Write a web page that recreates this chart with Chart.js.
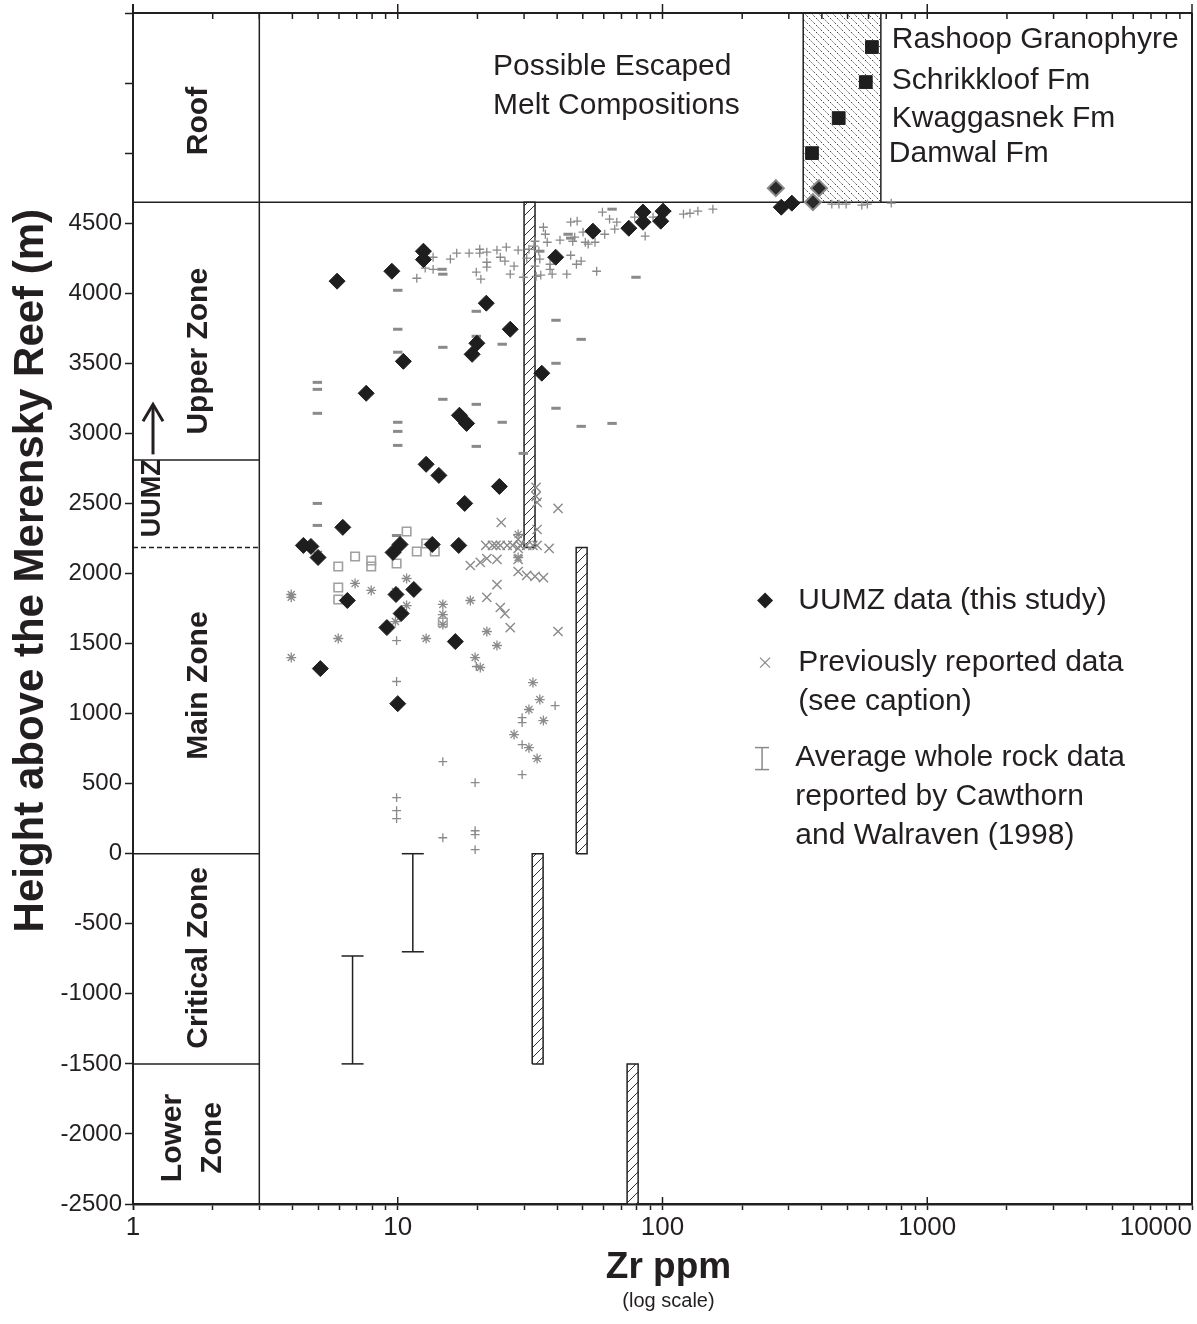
<!DOCTYPE html>
<html>
<head>
<meta charset="utf-8">
<script src="https://cdn.jsdelivr.net/npm/chart.js@4.4.1/dist/chart.umd.min.js"></script>
<style>
  html, body { margin: 0; padding: 0; background: #fff; }
  canvas { display: block; }
</style>
</head>
<body>
<canvas id="chartCanvas" width="1197" height="1324"></canvas>
<script>
// --- values: [Zr ppm, height above Merensky Reef (m)] ---
const uumzPoints = [
  [5.9, 4086], [9.5, 4157], [12.5, 4300], [12.5, 4240], [10.5, 3514], [21.6, 3929],
  [26.6, 3743], [19.9, 3643], [19.1, 3564], [39.5, 4257], [35.0, 3429], [7.6, 3286],
  [17.1, 3129], [18.2, 3071], [12.8, 2779], [14.3, 2700], [24.2, 2621], [17.9, 2500],
  [6.2, 2329], [4.4, 2200], [4.7, 2193], [5.0, 2114], [10.2, 2207], [9.6, 2150],
  [13.5, 2207], [17.0, 2200], [6.45, 1807], [11.5, 1886], [9.85, 1850], [10.3, 1714],
  [9.1, 1614], [16.5, 1514], [5.1, 1321], [10.0, 1071], [54.6, 4443], [74.6, 4464],
  [84.4, 4579], [84.4, 4507], [100.5, 4586], [98.5, 4514], [281, 4614], [308, 4643]
];
// diamonds with a grey rim at the roof contact
const uumzRoofPoints = [[268, 4750], [370, 4650], [390, 4750]];

const roofSamples = [[618, 5757], [586, 5507], [463, 5250], [367, 5000]];
const roofNames = ["Rashoop Granophyre", "Schrikkloof Fm", "Kwaggasnek Fm", "Damwal Fm"];
const roofNameAnchors = [[735, 5807], [735, 5514], [735, 5243], [716, 4993]];

// previously reported data, one list per marker
const prevPlus = [
  [11.8, 4107], [12.7, 4279], [13.6, 4257], [12.7, 4179], [13.6, 4171], [15.8, 4243],
  [16.7, 4286], [18.6, 4286], [20.4, 4314], [20.4, 4286], [21.7, 4293], [23.7, 4307],
  [25.7, 4329], [24.4, 4257], [25.4, 4229], [21.7, 4221], [21.7, 4186], [19.8, 4150],
  [20.6, 4100], [27.5, 4193], [26.6, 4136], [28.5, 4307], [30.7, 4250], [29.8, 4114],
  [31.3, 4314], [32.7, 4336], [33.0, 4371], [33.0, 4193], [33.3, 4121], [34.7, 4129],
  [34.4, 4243], [34.1, 4300], [35.5, 4471], [36.1, 4421], [36.7, 4364], [37.6, 4207],
  [37.6, 4171], [38.3, 4136], [41.0, 4379], [43.5, 4136], [45.0, 4271], [45.0, 4507],
  [47.6, 4514], [45.8, 4371], [46.6, 4400], [49.3, 4229], [47.3, 4207], [50.1, 4436],
  [51.1, 4364], [52.4, 4350], [55.6, 4364], [56.4, 4157], [59.3, 4579], [60.5, 4421],
  [63.1, 4529], [67.2, 4507], [66.0, 4457], [78.5, 4543], [86.0, 4407], [92.1, 4543],
  [96.5, 4543], [104, 4586], [120, 4564], [127, 4571], [136, 4586], [155, 4600],
  [436, 4636], [464, 4636], [494, 4636], [566, 4629], [594, 4636], [731, 4643],
  [9.9, 1521], [9.9, 1229], [14.8, 657], [19.6, 507], [9.9, 400], [9.9, 307],
  [9.9, 250], [14.8, 114], [19.6, 164], [19.6, 136], [19.6, 29], [39.3, 1057],
  [29.5, 971], [29.5, 936], [29.5, 779], [29.5, 564], [19.8, 1336]
];
const prevDash = [
  [64.5, 4600], [10.0, 4021], [14.8, 4136], [14.7, 4171], [79.4, 4114], [19.8, 3871],
  [10.0, 3743], [19.8, 3693], [24.8, 3636], [14.8, 3614], [10.0, 3579], [39.6, 3807],
  [49.3, 3671], [39.6, 3500], [4.97, 3364], [4.97, 3314], [4.97, 3143], [14.8, 3243],
  [19.8, 3207], [39.6, 3179], [24.8, 3079], [49.3, 3050], [64.5, 3071], [10.0, 3079],
  [10.0, 3014], [10.0, 2914], [19.8, 2907], [29.8, 2857], [4.97, 2500], [4.97, 2343],
  [9.9, 2271], [34.4, 4300], [44.0, 4421], [45.0, 4393]
];
const prevCross = [
  [40.3, 2464], [24.6, 2364], [33.3, 2614], [33.3, 2550], [33.6, 2507], [33.6, 2314],
  [21.5, 2200], [22.8, 2200], [23.5, 2200], [24.4, 2200], [25.9, 2200], [27.2, 2200],
  [29.0, 2200], [30.7, 2200], [32.4, 2200], [33.6, 2200], [37.3, 2179], [18.8, 2057],
  [20.5, 2079], [21.7, 2107], [23.7, 2100], [28.5, 2179], [28.5, 2100], [28.5, 2014],
  [30.7, 1986], [33.0, 1979], [35.5, 1971], [23.7, 1921], [21.7, 1829], [24.4, 1757],
  [25.4, 1714], [26.6, 1614], [40.3, 1586], [4.97, 2129], [28.5, 2243]
];
const prevStar = [
  [3.96, 1850], [3.96, 1830], [3.96, 1400], [5.96, 1536], [6.9, 1929], [7.94, 1879],
  [10.8, 1964], [10.8, 1771], [9.8, 1871], [9.8, 1657], [12.8, 1536], [14.8, 1779],
  [14.8, 1707], [14.8, 1636], [18.8, 1807], [21.7, 1586], [23.7, 1486], [19.6, 1400],
  [20.5, 1329], [32.4, 1221], [34.4, 1100], [31.3, 1029], [35.5, 950], [27.5, 850],
  [31.3, 757], [33.6, 679], [28.5, 2279], [28.5, 2114]
];
const prevSquare = [
  [10.8, 2300], [12.8, 2214], [11.8, 2157], [13.8, 2157], [9.9, 2071], [6.9, 2121],
  [5.96, 2050], [7.94, 2093], [7.94, 2050], [5.96, 1900], [5.96, 1814], [14.8, 1650]
];

// hatched ranges: [Zr low, Zr high, bottom m, top m]
const rangeBars = [[30, 33, 2185, 4650], [47.2, 51.9, 0, 2185], [32.2, 35.4, -1500, 0], [73.5, 80.9, -2500, -1500]];
const roofRange = [340, 668, 4650, 6000];
// Cawthorn & Walraven (1998) averages: [Zr, top m, bottom m]
const avgBars = [[6.75, -730, -1500], [11.4, 0, -700]];

// zone column
const zoneEdgeZr = 3;
const roofBase = 4650;
const zoneLines = [2810, 0, -1500];
const uumzBase = 2185;
const zoneLabels = [
  ["Roof", 5229, 0], ["Upper Zone", 3586, 0], ["Main Zone", 1200, 0],
  ["Critical Zone", -743, 0], ["Lower", -2029, -26], ["Zone", -2029, 14]
];

const meltLabel = ["Possible Escaped", "Melt Compositions"];
const meltAnchor = [22.9, 5620];

const legendRows = [
  ["diamond", ["UUMZ data (this study)"], 1807],
  ["cross", ["Previously reported data", "(see caption)"], 1364],
  ["ibeam", ["Average whole rock data", "reported by Cawthorn", "and Walraven (1998)"], 686]
];
const legendSymZr = 244;
const legendTextZr = 326;

const yTickValues = [-2500, -2000, -1500, -1000, -500, 0, 500, 1000, 1500, 2000, 2500, 3000, 3500, 4000, 4500, 5000, 5500, 6000];
const xMajorTicks = [1, 10, 100, 1000, 10000];
const yTitle = "Height above the Merensky Reef (m)";
const yTitleCentre = 2020; // metres level of the title's middle

// --- styles ---
const INK = "#231f20";
const GREY = "#8a8a8a";
const SANS = "'Liberation Sans', Arial, sans-serif";

const canvas = document.getElementById("chartCanvas");
const mainCtx = canvas.getContext("2d");

function hatch(step, forward, color, width, dash) {
  const c = document.createElement("canvas");
  c.width = step; c.height = step;
  const g = c.getContext("2d");
  g.fillStyle = "#fff";
  g.fillRect(0, 0, step, step);
  g.strokeStyle = color; g.lineWidth = width;
  if (dash) g.setLineDash(dash);
  g.beginPath();
  if (forward) {
    g.moveTo(-1, step + 1); g.lineTo(step + 1, -1);
    g.moveTo(-1, 1); g.lineTo(1, -1);
    g.moveTo(step - 1, step + 1); g.lineTo(step + 1, step - 1);
  } else {
    g.moveTo(-1, -1); g.lineTo(step + 1, step + 1);
    g.moveTo(step - 1, -1); g.lineTo(step + 1, 1);
    g.moveTo(-1, step - 1); g.lineTo(1, step + 1);
  }
  g.stroke();
  return mainCtx.createPattern(c, "repeat");
}
const barHatch = hatch(10, true, "#333", 1);
const roofHatch = hatch(7, false, "#444", 1, [2, 1.5]);

const pts = arr => arr.map(([x, y]) => ({ x, y }));
const box = ([x1, x2, y1, y2]) => [
  { x: x1, y: y1 }, { x: x2, y: y1 }, { x: x2, y: y2 }, { x: x1, y: y2 }, { x: x1, y: y1 }
];

function markers(data, style, radius, color, width, fill, order) {
  return {
    data: pts(data),
    pointStyle: style,
    pointRadius: radius,
    pointBorderColor: color,
    pointBackgroundColor: fill || "rgba(0,0,0,0)",
    pointBorderWidth: width,
    order
  };
}

const datasets = [
  markers(uumzPoints, "rectRot", 8, "#1e1e1e", 1, "#1e1e1e", 0),
  markers(uumzRoofPoints, "rectRot", 8, "#8a8a8a", 2, "#2a2a2a", 1),
  markers(roofSamples, "rect", 9, "#1e1e1e", 1, "#1e1e1e", 0),
  markers(prevSquare, "rect", 6, "#a0a0a0", 1.6, null, 5),
  markers(prevStar, "star", 5, GREY, 1.3, null, 5),
  markers(prevCross, "crossRot", 6.5, GREY, 1.4, null, 5),
  markers(prevPlus, "cross", 4.4, GREY, 1.3, null, 5),
  markers(prevDash, "line", 4.7, GREY, 3, null, 5)
];
rangeBars.forEach(r => datasets.push({
  type: "line", data: box(r), fill: "shape", backgroundColor: barHatch,
  borderColor: INK, borderWidth: 1.5, pointRadius: 0, tension: 0, order: 20
}));
datasets.push({
  type: "line", data: box(roofRange), fill: "shape", backgroundColor: roofHatch,
  borderColor: INK, borderWidth: 1.5, pointRadius: 0, tension: 0, order: 21
});
avgBars.forEach(([zr, top, bottom]) => datasets.push({
  type: "line", data: [{ x: zr, y: top }, { x: zr, y: bottom }],
  borderColor: INK, borderWidth: 1.5, pointStyle: "line", pointRadius: 11,
  pointBorderColor: INK, pointBorderWidth: 1.5, order: 10
}));

// x ticks: first entry duplicated so "1" stays centred and "10000" is right-aligned
const xTickValues = [1];
xMajorTicks.forEach((m, i) => {
  xTickValues.push(m);
  if (i < xMajorTicks.length - 1) for (let k = 2; k <= 9; k++) xTickValues.push(m * k);
});

function hline(ctx, x1, y1, x2, y2) {
  ctx.beginPath(); ctx.moveTo(x1, y1); ctx.lineTo(x2, y2); ctx.stroke();
}
function vtext(ctx, str, px, py, font) {
  ctx.save();
  ctx.translate(px, py); ctx.rotate(-Math.PI / 2);
  ctx.font = font; ctx.textAlign = "center"; ctx.textBaseline = "middle";
  ctx.fillText(str, 0, 0);
  ctx.restore();
}

const decor = {
  id: "decor",
  beforeDatasetsDraw(chart) {
    const { ctx, chartArea: a, scales: { x, y } } = chart;
    ctx.save();
    ctx.strokeStyle = INK; ctx.lineWidth = 1.5;
    const ex = x.getPixelForValue(zoneEdgeZr);
    hline(ctx, ex, a.top, ex, a.bottom);
    const ry = y.getPixelForValue(roofBase);
    hline(ctx, a.left, ry, a.right, ry);
    zoneLines.forEach(h => { const py = y.getPixelForValue(h); hline(ctx, a.left, py, ex, py); });
    ctx.setLineDash([5, 3]);
    const uy = y.getPixelForValue(uumzBase);
    hline(ctx, a.left, uy, ex, uy);
    ctx.setLineDash([]);

    // zone names
    ctx.fillStyle = INK;
    const cx = (a.left + ex) / 2 + 3;
    zoneLabels.forEach(([t, h, dx]) => vtext(ctx, t, cx + dx, y.getPixelForValue(h), "bold 30px " + SANS));
    // UUMZ tag and arrow
    const ux = a.left + 20;
    vtext(ctx, "UUMZ", ux, y.getPixelForValue(2536), "bold 27px " + SANS);
    ctx.lineWidth = 3;
    const ay1 = y.getPixelForValue(2850), ay2 = y.getPixelForValue(3207);
    hline(ctx, ux, ay1, ux, ay2 + 1);
    ctx.beginPath();
    ctx.moveTo(ux - 10, ay2 + 17); ctx.lineTo(ux, ay2); ctx.lineTo(ux + 10, ay2 + 17);
    ctx.stroke();

    // melt compositions text and formation names
    ctx.font = "30px " + SANS;
    ctx.textAlign = "left"; ctx.textBaseline = "middle";
    const mx = x.getPixelForValue(meltAnchor[0]), my = y.getPixelForValue(meltAnchor[1]);
    meltLabel.forEach((t, i) => ctx.fillText(t, mx, my + i * 39));
    roofNames.forEach((t, i) => ctx.fillText(t, x.getPixelForValue(roofNameAnchors[i][0]), y.getPixelForValue(roofNameAnchors[i][1])));
    ctx.restore();
  },
  afterDraw(chart) {
    const { ctx, chartArea: a, scales: { x, y } } = chart;
    ctx.save();
    ctx.strokeStyle = INK;
    // frame on top and right
    ctx.lineWidth = 2;
    hline(ctx, a.left, a.top, a.right, a.top);
    hline(ctx, a.right, a.top, a.right, a.bottom);
    hline(ctx, a.left, a.top - 9, a.left, a.top);
    // mirrored log ticks along the top, major ticks crossing both axes
    ctx.lineWidth = 1.5;
    xTickValues.slice(1).forEach(v => {
      const px = x.getPixelForValue(v);
      const major = xMajorTicks.includes(v);
      hline(ctx, px, major ? a.top - 9 : a.top, px, a.top + 6);
      if (major) hline(ctx, px, a.bottom - 7, px, a.bottom);
    });

    // axis titles
    ctx.fillStyle = INK;
    vtext(ctx, yTitle, 31, y.getPixelForValue(yTitleCentre), "bold 42px " + SANS);
    ctx.textAlign = "center"; ctx.textBaseline = "middle";
    const tx = (a.left + a.right) / 2 + 6;
    ctx.font = "bold 37px " + SANS;
    ctx.fillText("Zr ppm", tx, 1268);
    ctx.font = "20px " + SANS;
    ctx.fillText("(log scale)", tx, 1301);

    // legend
    const sx = x.getPixelForValue(legendSymZr), lx = x.getPixelForValue(legendTextZr);
    legendRows.forEach(([sym, lines, h]) => {
      const py = y.getPixelForValue(h);
      ctx.font = "30px " + SANS;
      ctx.textAlign = "left";
      ctx.fillStyle = INK;
      lines.forEach((t, i) => ctx.fillText(t, lx - (sym === "ibeam" ? 3 : 0), py + i * 39));
      if (sym === "diamond") {
        ctx.beginPath();
        ctx.moveTo(sx - 8, py); ctx.lineTo(sx, py - 8); ctx.lineTo(sx + 8, py); ctx.lineTo(sx, py + 8);
        ctx.closePath(); ctx.fillStyle = "#1e1e1e"; ctx.fill();
      } else if (sym === "cross") {
        ctx.strokeStyle = GREY; ctx.lineWidth = 1.2;
        hline(ctx, sx - 5, py - 5, sx + 5, py + 5);
        hline(ctx, sx - 5, py + 5, sx + 5, py - 5);
      } else {
        ctx.strokeStyle = GREY; ctx.lineWidth = 1.5;
        const bx = sx - 3;
        hline(ctx, bx, py - 10, bx, py + 12);
        hline(ctx, bx - 7, py - 10, bx + 7, py - 10);
        hline(ctx, bx - 7, py + 12, bx + 7, py + 12);
      }
    });
    ctx.restore();
  }
};

new Chart(canvas, {
  type: "scatter",
  data: { datasets },
  options: {
    responsive: false,
    animation: false,
    devicePixelRatio: 1,
    events: [],
    layout: { autoPadding: false, padding: { top: 13, right: 5, left: 0, bottom: 0 } },
    plugins: { legend: { display: false }, tooltip: { enabled: false } },
    scales: {
      x: {
        type: "logarithmic",
        min: 1, max: 10000,
        afterBuildTicks: s => { s.ticks = xTickValues.map(v => ({ value: v })); },
        afterFit: s => { s.height = 120; s.paddingLeft = 0; s.paddingRight = 0; },
        ticks: {
          autoSkip: false, maxRotation: 0, minRotation: 0, align: "inner", padding: 2,
          color: INK, font: { family: SANS, size: 26 },
          callback: (v, i) => (i > 0 && xMajorTicks.includes(v)) ? String(v) : ""
        },
        grid: { drawOnChartArea: false, drawTicks: true, tickLength: 6, tickColor: INK, tickWidth: 1.5 },
        border: { display: true, color: INK, width: 2.5 }
      },
      y: {
        type: "linear",
        min: -2500, max: 6000,
        afterBuildTicks: s => { s.ticks = yTickValues.map(v => ({ value: v })); },
        afterFit: s => { s.width = 133; s.paddingTop = 0; s.paddingBottom = 0; },
        ticks: {
          padding: 3, color: INK, font: { family: SANS, size: 24 },
          callback: v => (v <= 4500 ? String(v) : "")
        },
        grid: { drawOnChartArea: false, drawTicks: true, tickLength: 8, tickColor: INK, tickWidth: 1.5 },
        border: { display: true, color: INK, width: 2 }
      }
    }
  },
  plugins: [decor]
});
</script>
</body>
</html>
